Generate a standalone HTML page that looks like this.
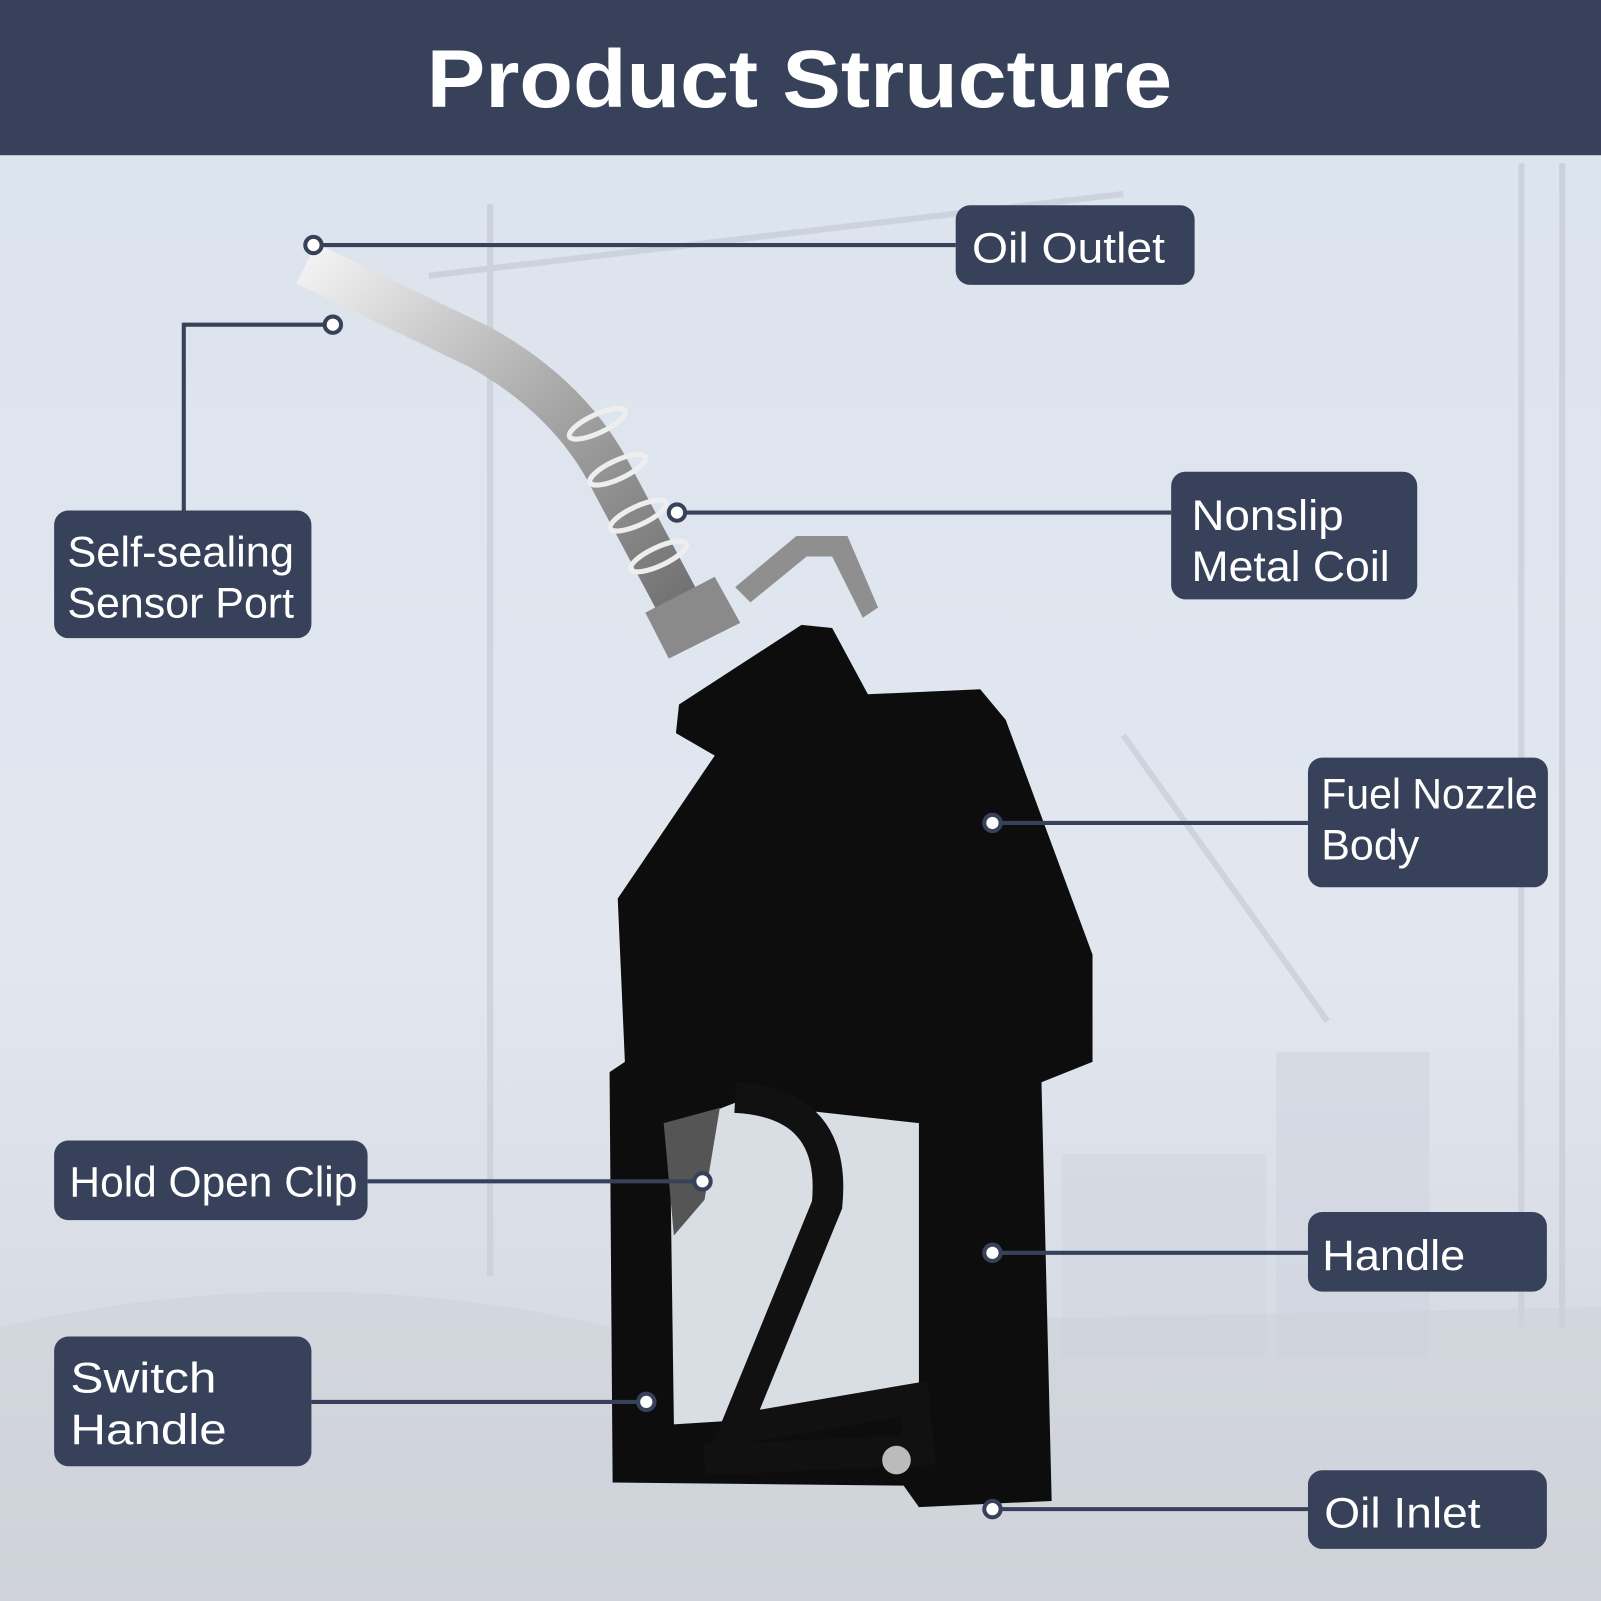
<!DOCTYPE html>
<html><head><meta charset="utf-8"><style>
html,body{margin:0;padding:0;background:#dfe5ee;}
svg{display:block}
text{font-family:"Liberation Sans",sans-serif;}
</style></head><body>
<svg width="1601" height="1601" viewBox="0 0 1568 1568" xmlns="http://www.w3.org/2000/svg">
<defs>
<linearGradient id="bg" x1="0" y1="0" x2="0" y2="1">
<stop offset="0" stop-color="#dbe3ee"/><stop offset="0.6" stop-color="#e2e7ef"/><stop offset="1" stop-color="#cfd3dc"/>
</linearGradient>
<linearGradient id="met" x1="0" y1="0" x2="1" y2="1">
<stop offset="0" stop-color="#f2f2f2"/><stop offset="0.5" stop-color="#a8a8a8"/><stop offset="1" stop-color="#6a6a6a"/>
</linearGradient>
</defs>
<rect width="1568" height="1568" fill="url(#bg)"/>
<g stroke="#c9ced8" stroke-width="6" fill="none" opacity="0.8">
<line x1="1490" y1="160" x2="1490" y2="1300"/><line x1="1530" y1="160" x2="1530" y2="1300"/>
<line x1="480" y1="200" x2="480" y2="1250"/><line x1="420" y1="270" x2="1100" y2="190"/>
<line x1="1100" y1="720" x2="1300" y2="1000"/>
</g>
<rect x="1040" y="1130" width="200" height="200" fill="#d2d7e0" opacity="0.7"/>
<rect x="1250" y="1030" width="150" height="300" fill="#cfd4dd" opacity="0.6"/>
<path d="M0 1300 Q300 1230 600 1300 L1568 1280 L1568 1568 L0 1568Z" fill="#cfd2d8" opacity="0.6"/>
<rect width="1568" height="152" fill="#37425a"/>
<text x="418" y="105" font-size="80" font-weight="bold" fill="#fff" textLength="730" lengthAdjust="spacingAndGlyphs">Product Structure</text>
<path d="M300 258 L470 340 Q560 390 600 470 L680 620" stroke="url(#met)" stroke-width="44" fill="none"/>
<g stroke="#eee" stroke-width="5" fill="none">
<ellipse cx="585" cy="415" rx="30" ry="9" transform="rotate(-25 585 415)"/>
<ellipse cx="605" cy="460" rx="30" ry="9" transform="rotate(-25 605 460)"/>
<ellipse cx="625" cy="505" rx="30" ry="9" transform="rotate(-25 625 505)"/>
<ellipse cx="645" cy="545" rx="30" ry="9" transform="rotate(-25 645 545)"/>
</g>
<path d="M632 600 L700 565 L725 610 L655 645Z" fill="#8a8a8a"/>
<path d="M720 575 L780 525 L830 525 L860 595 L845 605 L815 545 L790 545 L735 590Z" fill="#8f8f8f"/>
<path d="M665 690 L785 612 L815 615 L850 680 L960 675 L985 705 L1070 935 L1070 1040 L1020 1060 L1030 1470 L900 1476 L885 1455 L600 1452 L597 1050 L612 1040 L605 880 L700 740 L662 718Z" fill="#0d0d0d"/>
<path d="M656 1105 L720 1080 L900 1100 L900 1380 L660 1395 Z" fill="#d9dde4"/>
<path d="M720 1075 Q820 1080 810 1180 L720 1400 L895 1370 L900 1420 L690 1430" stroke="#111" stroke-width="30" fill="none"/>
<path d="M650 1100 L705 1085 L690 1175 L660 1210Z" fill="#555"/>
<circle cx="878" cy="1430" r="14" fill="#bbb"/>
<g stroke="#37425a" stroke-width="4" fill="none">
<line x1="307" y1="240" x2="936" y2="240"/>
<polyline points="180,500 180,318 326,318"/>
<line x1="663" y1="502" x2="1147" y2="502"/>
<line x1="972" y1="806" x2="1281" y2="806"/>
<line x1="360" y1="1157" x2="688" y2="1157"/>
<line x1="972" y1="1227" x2="1281" y2="1227"/>
<line x1="305" y1="1373" x2="633" y2="1373"/>
<line x1="972" y1="1478" x2="1281" y2="1478"/>
</g>
<g fill="#fff" stroke="#37425a" stroke-width="4">
<circle cx="307" cy="240" r="8"/><circle cx="326" cy="318" r="8"/><circle cx="663" cy="502" r="8"/>
<circle cx="972" cy="806" r="8"/><circle cx="688" cy="1157" r="8"/><circle cx="972" cy="1227" r="8"/>
<circle cx="633" cy="1373" r="8"/><circle cx="972" cy="1478" r="8"/>
</g>
<g fill="#37425a">
<rect x="936" y="201" width="234" height="78" rx="14"/>
<rect x="53" y="500" width="252" height="125" rx="14"/>
<rect x="1147" y="462" width="241" height="125" rx="14"/>
<rect x="1281" y="742" width="235" height="127" rx="14"/>
<rect x="53" y="1117" width="307" height="78" rx="14"/>
<rect x="1281" y="1187" width="234" height="78" rx="14"/>
<rect x="53" y="1309" width="252" height="127" rx="14"/>
<rect x="1281" y="1440" width="234" height="77" rx="14"/>
</g>
<g fill="#fff" font-size="42" lengthAdjust="spacingAndGlyphs">
<text x="952" y="257" textLength="189" lengthAdjust="spacingAndGlyphs">Oil Outlet</text>
<text x="66" y="555" textLength="222" lengthAdjust="spacingAndGlyphs">Self-sealing</text>
<text x="66" y="605" textLength="222" lengthAdjust="spacingAndGlyphs">Sensor Port</text>
<text x="1167" y="519" textLength="149" lengthAdjust="spacingAndGlyphs">Nonslip</text>
<text x="1167" y="569" textLength="194" lengthAdjust="spacingAndGlyphs">Metal Coil</text>
<text x="1294" y="792" textLength="212" lengthAdjust="spacingAndGlyphs">Fuel Nozzle</text>
<text x="1294" y="842" textLength="96" lengthAdjust="spacingAndGlyphs">Body</text>
<text x="68" y="1172" textLength="282" lengthAdjust="spacingAndGlyphs">Hold Open Clip</text>
<text x="1295" y="1244" textLength="140" lengthAdjust="spacingAndGlyphs">Handle</text>
<text x="69" y="1364" textLength="143" lengthAdjust="spacingAndGlyphs">Switch</text>
<text x="69" y="1414" textLength="153" lengthAdjust="spacingAndGlyphs">Handle</text>
<text x="1297" y="1496" textLength="153" lengthAdjust="spacingAndGlyphs">Oil Inlet</text>
</g>
</svg>
</body></html>
